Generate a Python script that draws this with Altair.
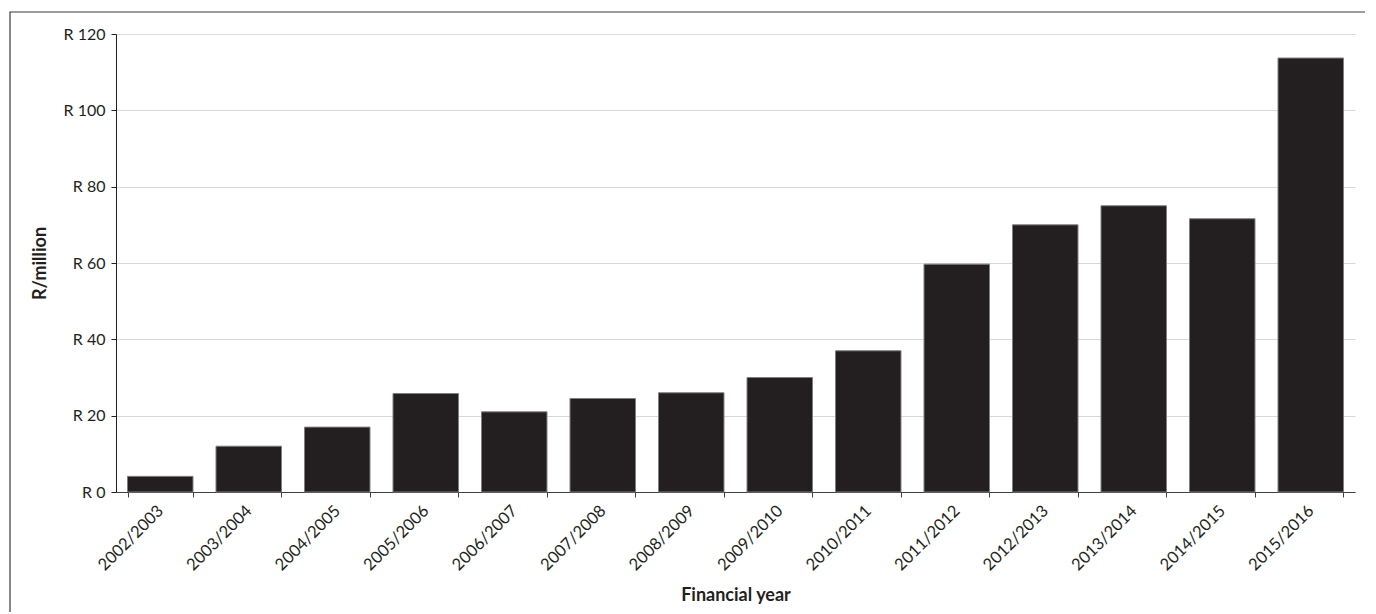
import altair as alt
import pandas as pd

years = ["2002/2003", "2003/2004", "2004/2005", "2005/2006", "2006/2007", "2007/2008",
         "2008/2009", "2009/2010", "2010/2011", "2011/2012", "2012/2013", "2013/2014",
         "2014/2015", "2015/2016"]
values = [4.1, 12.0, 17.0, 25.8, 21.0, 24.5, 26.0, 30.0, 37.0, 59.7, 70.0, 75.0, 71.6, 113.7]

df = pd.DataFrame({"year": years, "value": values})

FONT = "Lato"

bars = alt.Chart(df).mark_bar(color="#231f20", stroke="#7f7f7f", strokeWidth=1).encode(
    x=alt.X("year:N", sort=years, title="Financial year",
            scale=alt.Scale(paddingInner=0.26, paddingOuter=0.13),
            axis=alt.Axis(labelAngle=-45, labelAlign="right", labelBaseline="middle",
                          labelPadding=11, tickBand="extent", tickSize=5,
                          domainColor="#404040", tickColor="#404040",
                          labelFontSize=16.5, labelColor="#231f20", titleFontSize=18,
                          titleFontWeight="bold", titleColor="#231f20", titlePadding=13,
                          labelFont=FONT, titleFont=FONT, grid=False)),
    y=alt.Y("value:Q", title="R/million",
            scale=alt.Scale(domain=[0, 120]),
            axis=alt.Axis(values=[0, 20, 40, 60, 80, 100, 120], labelExpr="'R ' + datum.value",
                          tickSize=5, labelPadding=6, domainColor="#231f20", tickColor="#231f20",
                          gridColor="#d9d9d9", labelFontSize=16, labelColor="#231f20",
                          titleFontSize=18, titleFontWeight="bold", titleColor="#231f20",
                          titlePadding=14, labelFont=FONT, titleFont=FONT)),
)

frame = alt.Chart(pd.DataFrame({"a": [0]})).mark_rect(
    fill=None, stroke="#3a3a3a", strokeWidth=1.2, clip=False
).encode(
    x=alt.value(-106), x2=alt.value(1254), y=alt.value(-22), y2=alt.value(600)
)

chart = alt.layer(bars, frame).properties(
    width=1239, height=458,
    autosize=alt.AutoSizeParams(type="none"),
    padding={"left": 108, "top": 26, "right": 10, "bottom": 120},
).configure_view(stroke=None)

chart.save("out.html", embed_options={"renderer": "svg", "actions": False})
